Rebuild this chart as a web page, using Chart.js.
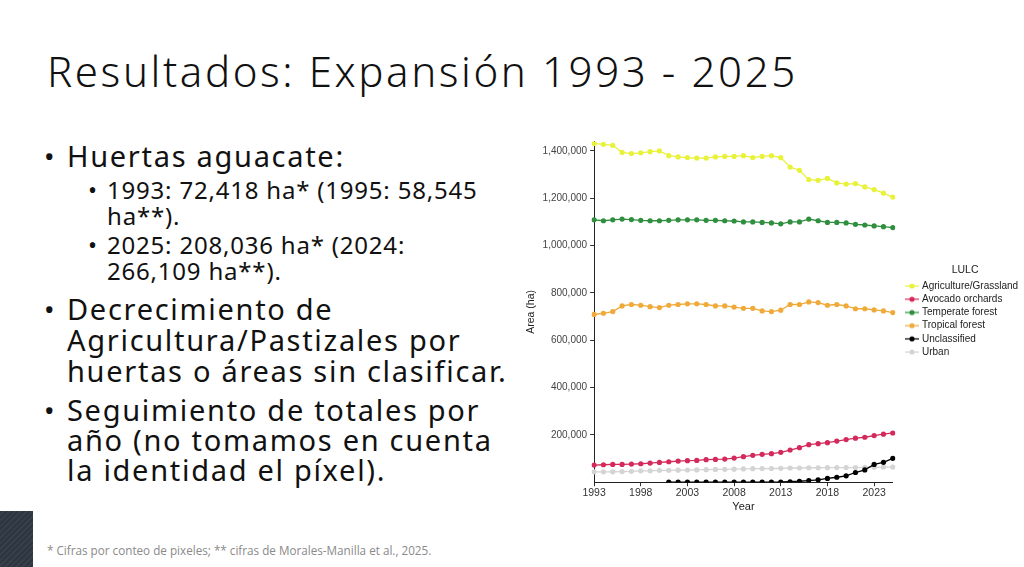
<!DOCTYPE html>
<html>
<head>
<meta charset="utf-8">
<script src="https://cdn.jsdelivr.net/npm/chart.js@4.4.1/dist/chart.umd.min.js"></script>
<style>
  html, body { margin: 0; padding: 0; background: #ffffff; }
  body { width: 1024px; height: 567px; position: relative; overflow: hidden; font-family: "Noto Sans", "Open Sans", sans-serif; color: #111; }
  .t { position: absolute; white-space: nowrap; }
  #title { left: 47px; top: 42px; font-size: 42px; font-weight: 300; letter-spacing: 2.6px; }
  .b1 { font-size: 29px; left: 67px; letter-spacing: 1.7px; }
  .b2 { font-size: 24px; left: 107px; letter-spacing: 0.8px; }
  .dot1 { position: absolute; left: 44px; font-size: 28px; }
  .dot2 { position: absolute; left: 88px; font-size: 24px; }
  #foot { left: 47px; top: 542px; font-size: 11.7px; color: #8a8a8a; font-family: "Open Sans", sans-serif; }
  #dark { position: absolute; left: 0; top: 511px; width: 33px; height: 56px; background: repeating-linear-gradient(135deg, #2c3540 0px, #2c3540 2px, #36404b 2px, #36404b 4px); }
  #chartwrap { position: absolute; left: 525px; top: 110px; width: 499px; height: 406px; }
</style>
</head>
<body>
<div class="t" id="title">Resultados: Expansión 1993 - 2025</div>

<div class="dot1" style="top:137px">•</div>
<div class="t b1" style="top:136px">Huertas aguacate:</div>
<div class="dot2" style="top:173px">•</div>
<div class="t b2" style="top:173px">1993: 72,418 ha* (1995: 58,545</div>
<div class="t b2" style="top:199px">ha**).</div>
<div class="dot2" style="top:228px">•</div>
<div class="t b2" style="top:228px">2025: 208,036 ha* (2024:</div>
<div class="t b2" style="top:254px">266,109 ha**).</div>
<div class="dot1" style="top:290px">•</div>
<div class="t b1" style="top:289px">Decrecimiento de</div>
<div class="t b1" style="top:320px">Agricultura/Pastizales por</div>
<div class="t b1" style="top:351px">huertas o áreas sin clasificar.</div>
<div class="dot1" style="top:391px">•</div>
<div class="t b1" style="top:390px">Seguimiento de totales por</div>
<div class="t b1" style="top:420px">año (no tomamos en cuenta</div>
<div class="t b1" style="top:450px">la identidad el píxel).</div>

<div class="t" id="foot">* Cifras por conteo de pixeles; ** cifras de Morales-Manilla et al., 2025.</div>
<div id="dark"></div>

<div id="chartwrap"><canvas id="c"></canvas></div>

<script>
const years = [1993,1994,1995,1996,1997,1998,1999,2000,2001,2002,2003,2004,2005,2006,2007,2008,2009,2010,2011,2012,2013,2014,2015,2016,2017,2018,2019,2020,2021,2022,2023,2024,2025];
const xTickYears = [1993,1998,2003,2008,2013,2018,2023];
const yTickValues = [200000,400000,600000,800000,1000000,1200000,1400000];

const agriculture = [1432000,1428000,1424000,1394000,1389000,1392000,1397000,1400000,1380000,1375000,1372000,1370000,1370000,1375000,1377000,1377000,1380000,1372000,1377000,1380000,1372000,1332000,1318000,1279000,1276000,1284000,1265000,1260000,1262000,1248000,1237000,1222000,1205000];
const avocado = [72418,73700,75000,75000,76600,78000,80800,83700,86500,89300,90800,92200,95000,96400,97800,102000,107800,113400,117700,120500,126200,136000,146000,158800,163000,167000,174000,180000,186000,190000,197000,203000,208036];
const temperate = [1109000,1105000,1109000,1112000,1110000,1107000,1105000,1105000,1107000,1109000,1109000,1109000,1107000,1107000,1105000,1104000,1100000,1100000,1098000,1096000,1092000,1100000,1100000,1112000,1105000,1098000,1098000,1096000,1090000,1087000,1083000,1080000,1076000];
const tropical = [709000,714000,721000,745000,751000,748000,742000,738000,748000,751000,754000,754000,751000,745000,745000,740000,735000,735000,724000,721000,727000,751000,751000,762000,759000,748000,751000,745000,733000,733000,728000,724000,717000];
const unclassified = [null,null,null,null,null,null,null,null,500,500,500,500,500,500,500,500,500,500,500,500,800,2000,4000,7000,10000,16000,21000,27000,41000,52000,75000,84000,101000];
const urban = [44000,44000,44000,45000,46000,48000,48000,50000,50000,51000,51500,52000,53000,54000,54500,55000,56000,57000,57500,58000,58500,60000,60000,61000,61000,61500,62000,62000,62000,62500,63000,64000,64000];

const seriesNames = ["Agriculture/Grassland","Avocado orchards","Temperate forest","Tropical forest","Unclassified","Urban"];
const seriesColors = ["#e9f23a","#d42a5b","#2f8f3e","#f0aa3a","#000000","#d4d4d4"];
const seriesData = [agriculture, avocado, temperate, tropical, unclassified, urban];

function glyph(color) {
  const cv = document.createElement('canvas');
  cv.width = 16; cv.height = 8;
  const g = cv.getContext('2d');
  g.strokeStyle = color; g.lineWidth = 1.2;
  g.beginPath(); g.moveTo(1, 4); g.lineTo(15, 4); g.stroke();
  g.fillStyle = color;
  g.beginPath(); g.arc(8, 4, 2.6, 0, Math.PI * 2); g.fill();
  return cv;
}

const datasets = seriesNames.map((name, i) => ({
  label: name,
  data: seriesData[i],
  borderColor: seriesColors[i],
  backgroundColor: seriesColors[i],
  borderWidth: 1.3,
  pointRadius: 2.6,
  pointHoverRadius: 2.6,
  pointBorderWidth: 0,
  tension: 0,
  spanGaps: false
}));

// nudge the legend block to where the reference places it
const legendShift = {
  id: 'legendShift',
  afterLayout(chart) {
    const lg = chart.legend;
    if (!lg) return;
    const dx = 11, dy = -15;
    lg.left += dx; lg.right += dx;
    lg.top += dy; lg.bottom += dy;
  }
};

const axisFont = { family: "'Liberation Sans', Arial, sans-serif", size: 10 };

new Chart(document.getElementById('c'), {
  type: 'line',
  data: { labels: years, datasets: datasets },
  plugins: [legendShift],
  options: {
    responsive: true,
    maintainAspectRatio: false,
    animation: false,
    layout: { padding: { top: 31.5, bottom: 2, left: 0, right: 8.6 } },
    plugins: {
      tooltip: { enabled: false },
      legend: {
        position: 'right',
        align: 'center',
        title: { display: true, text: 'LULC', color: '#222', font: { family: "'Liberation Sans', Arial, sans-serif", size: 10.5 }, padding: { top: 0, bottom: 0 } },
        labels: {
          color: '#222',
          font: { family: "'Liberation Sans', Arial, sans-serif", size: 10 },
          usePointStyle: true,
          boxWidth: 16,
          boxHeight: 8,
          padding: 3.2,
          generateLabels: (chart) => chart.data.datasets.map((ds, i) => ({
            text: ds.label,
            pointStyle: glyph(seriesColors[i]),
            fillStyle: seriesColors[i],
            strokeStyle: seriesColors[i],
            lineWidth: 0,
            hidden: false,
            datasetIndex: i,
            fontColor: '#222'
          }))
        }
      }
    },
    scales: {
      x: {
        type: 'category',
        offset: false,
        title: { display: true, text: 'Year', color: '#222', font: { family: "'Liberation Sans', Arial, sans-serif", size: 11 }, padding: { top: 0, bottom: 0 } },
        grid: { display: true, drawOnChartArea: false, drawTicks: true, tickLength: 4, color: '#333' },
        border: { display: true, color: '#222', width: 1 },
        ticks: {
          autoSkip: false, maxRotation: 0, color: '#333', font: { ...axisFont, size: 10.5 }, padding: 1,
          callback: function(v, idx) { const yr = years[idx]; return xTickYears.includes(yr) ? String(yr) : null; }
        }
      },
      y: {
        min: 0,
        max: 1440000,
        title: { display: true, text: 'Area (ha)', color: '#222', font: { family: "'Liberation Sans', Arial, sans-serif", size: 10.5 }, padding: { top: 0, bottom: 2 } },
        grid: { display: true, drawOnChartArea: false, drawTicks: true, tickLength: 4, color: '#333' },
        border: { display: true, color: '#222', width: 1 },
        afterBuildTicks: (axis) => { axis.ticks = yTickValues.map(v => ({ value: v })); },
        ticks: {
          color: '#444', font: axisFont, padding: 3,
          callback: (v) => Number(v).toLocaleString('en-US')
        }
      }
    }
  }
});
</script>
</body>
</html>
